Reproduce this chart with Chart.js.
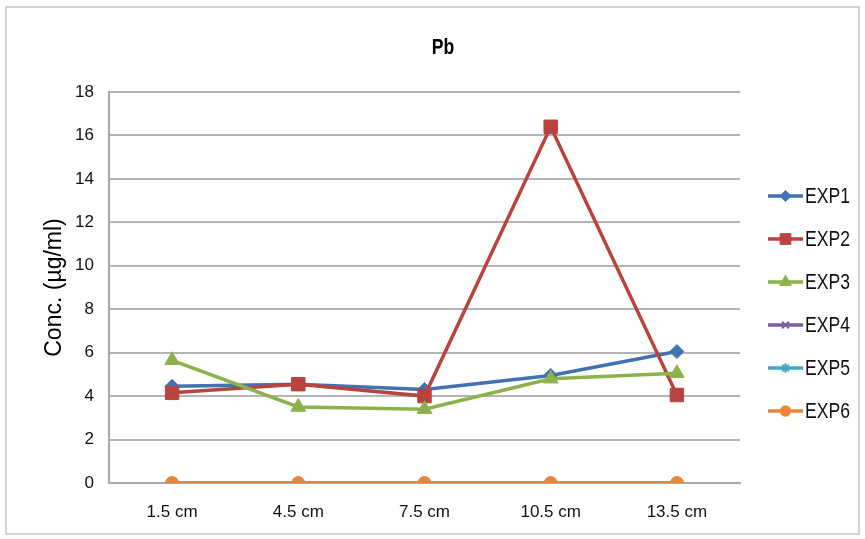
<!DOCTYPE html>
<html>
<head>
<meta charset="utf-8">
<script src="https://cdn.jsdelivr.net/npm/chart.js@4/dist/chart.umd.min.js"></script>
<style>
  html, body { margin: 0; padding: 0; background: #fff; }
  #wrap { width: 865px; height: 539px; }
</style>
</head>
<body>
<div id="wrap"><canvas id="chart" width="865" height="539"></canvas></div>
<script>
var categories = ["1.5 cm", "4.5 cm", "7.5 cm", "10.5 cm", "13.5 cm"];
var exp1 = [4.45, 4.55, 4.3, 4.95, 6.05];
var exp2 = [4.15, 4.55, 4.0, 16.4, 4.05];
var exp3 = [5.65, 3.5, 3.4, 4.8, 5.05];
var exp4 = [0, 0, 0, 0, 0];
var exp5 = [0, 0, 0, 0, 0];
var exp6 = [0, 0, 0, 0, 0];
var seriesNames = ["EXP1", "EXP2", "EXP3", "EXP4", "EXP5", "EXP6"];
var yTicks = [0, 2, 4, 6, 8, 10, 12, 14, 16, 18];

var font = "'Liberation Sans', Arial, sans-serif";

// look of each series (Excel 2007 palette)
var looks = [
    { color: "#4372b0", style: "rectRot", radius: 7 },
    { color: "#b8433f", style: "rect", radius: 9.5 },
    { color: "#8db24c", style: "triangle", radius: 8.5 },
    { color: "#7b5ea0", style: "crossRot", radius: 6 },
    { color: "#44a7c2", style: "star", radius: 6 },
    { color: "#e8863a", style: "circle", radius: 6.5 }
];

function isThin(style) {
    return style == "crossRot" || style == "star";
}

function makeSet(i, values) {
    var look = looks[i];
    return {
        label: seriesNames[i],
        data: values,
        borderColor: look.color,
        backgroundColor: look.color,
        borderWidth: 3.5,
        pointStyle: look.style,
        pointRadius: look.radius,
        pointHoverRadius: look.radius,
        pointBorderWidth: isThin(look.style) ? 2 : 1,
        tension: 0,
        // later series sit on top, like the spreadsheet does it
        order: 6 - i
    };
}

// squeeze text sideways, the original uses a condensed face
function narrowText(ctx, text, x, y, squeeze) {
    ctx.save();
    ctx.translate(x, y);
    ctx.scale(squeeze, 1);
    ctx.fillText(text, 0, 0);
    ctx.restore();
}

// frame, title, axis title and legend
var decor = {
    id: "decor",
    beforeDraw: function(chart) {
        var ctx = chart.ctx;
        ctx.save();
        ctx.fillStyle = "#fff";
        ctx.fillRect(0, 0, chart.width, chart.height);
        ctx.strokeStyle = "#c4c4c4";
        ctx.lineWidth = 1.5;
        ctx.strokeRect(6, 7, 853, 527);
        ctx.restore();
    },
    afterDraw: function(chart) {
        var ctx = chart.ctx;
        var area = chart.chartArea;
        ctx.save();
        ctx.fillStyle = "#000";
        ctx.textAlign = "center";
        ctx.textBaseline = "middle";
        ctx.font = "bold 22px " + font;
        narrowText(ctx, "Pb", 443, 48, 0.8);

        ctx.translate(55, (area.top + area.bottom) / 2);
        ctx.rotate(-Math.PI / 2);
        ctx.font = "23px " + font;
        ctx.fillText("Conc. (\u00b5g/ml)", 0, 0);
        ctx.restore();

        // legend
        ctx.save();
        ctx.font = "22px " + font;
        ctx.textAlign = "left";
        ctx.textBaseline = "middle";
        for (var i = 0; i < seriesNames.length; i++) {
            var y = 196 + i * 43;
            var look = looks[i];
            ctx.strokeStyle = look.color;
            ctx.fillStyle = look.color;
            ctx.lineWidth = 3.5;
            ctx.beginPath();
            ctx.moveTo(768, y);
            ctx.lineTo(803, y);
            ctx.stroke();
            if (Chart.helpers && Chart.helpers.drawPoint) {
                ctx.lineWidth = isThin(look.style) ? 2 : 1;
                Chart.helpers.drawPoint(ctx, {
                    pointStyle: look.style,
                    radius: look.radius * 0.8,
                    rotation: 0,
                    borderWidth: ctx.lineWidth
                }, 785.5, y);
            }
            ctx.fillStyle = "#111";
            narrowText(ctx, seriesNames[i], 805, y + 1, 0.8);
        }
        ctx.restore();
    }
};

new Chart(document.getElementById("chart"), {
    type: "line",
    data: {
        labels: categories,
        datasets: [
            makeSet(0, exp1),
            makeSet(1, exp2),
            makeSet(2, exp3),
            makeSet(3, exp4),
            makeSet(4, exp5),
            makeSet(5, exp6)
        ]
    },
    options: {
        responsive: false,
        animation: false,
        layout: { padding: { left: 8, right: 125, top: 92, bottom: 0 } },
        plugins: {
            legend: { display: false },
            title: { display: false },
            tooltip: { enabled: false }
        },
        scales: {
            x: {
                offset: true,
                grid: { display: false, drawTicks: false },
                border: { color: "#a8a8a8", width: 2 },
                ticks: {
                    color: "#111",
                    padding: 19,
                    font: { family: font, size: 17 }
                },
                afterFit: function(scale) { scale.height = 56; }
            },
            y: {
                min: 0,
                max: 18,
                afterBuildTicks: function(scale) {
                    scale.ticks = yTicks.map(function(v) { return { value: v }; });
                },
                grid: { color: "#b4b4b4", lineWidth: 2, drawTicks: false },
                border: { color: "#a8a8a8", width: 2 },
                ticks: {
                    color: "#111",
                    padding: 15,
                    font: { family: font, size: 17 }
                },
                afterFit: function(scale) { scale.width = 101; }
            }
        }
    },
    plugins: [decor]
});
</script>
</body>
</html>
